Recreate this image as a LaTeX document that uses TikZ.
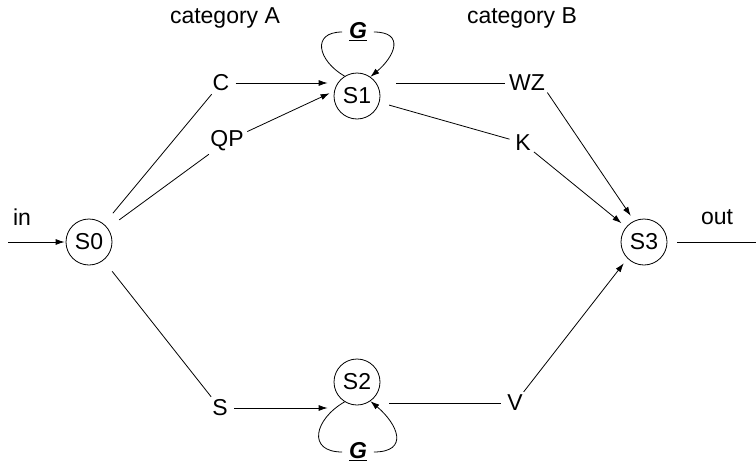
\documentclass[tikz,border=0pt]{standalone}
\usepackage{fontspec}
\setmainfont{Liberation Sans}
\usetikzlibrary{arrows.meta}
\tikzset{
  st/.style={circle, draw, minimum size=46pt, inner sep=0pt, line width=0.8pt},
  lbl/.style={circle, inner sep=2pt},
  plain/.style={inner sep=0pt},
  conn/.style={line width=0.8pt},
  arr/.style={line width=0.8pt, -{Latex[length=9pt,width=6pt]}},
}
\begin{document}
\begin{tikzpicture}[x=1pt, y=-1pt, font=\fontsize{23}{27}\selectfont]
\useasboundingbox (0,0) rectangle (756,469);
% states
\node[st] (S0) at (89,242) {S0};
\node[st] (S1) at (357,96) {S1};
\node[st] (S2) at (357,382) {S2};
\node[st] (S3) at (644,242) {S3};
% labels
\node[plain] (catA) at (225,18) {category A};
\node[plain] (catB) at (522,18) {category B};
\node[lbl] (C) at (221,83) {C};
\node[lbl] (QP) at (227,141) {QP};
\node[lbl] (S) at (220,408) {S};
\node[lbl] (WZ) at (527,83) {WZ};
\node[lbl] (K) at (523,143) {K};
\node[lbl] (V) at (515,403) {V};
\node[plain] (in) at (22,217) {in};
\node[plain] (out) at (717,217) {out};
\node[lbl] (G1) at (358,32) {\underline{\textbf{\textit{G}}}};
\node[lbl] (G2) at (358,452) {\underline{\textbf{\textit{G}}}};
\coordinate (inStart) at (8,242);
\coordinate (outEnd) at (756,242);
% connectors
\draw[arr, shorten >=1pt] (inStart) -- (S0);
\draw[conn, shorten <=10pt] (S3) -- (outEnd);
\draw[conn, shorten <=14pt] (S0) -- (C);
\draw[conn, shorten <=14pt] (S0) -- (QP);
\draw[conn, shorten <=14pt] (S0) -- (S);
\draw[arr, shorten >=6pt] (C) -- (C -| S1.west);
\draw[arr, shorten >=5pt] (QP) -- (S1.168);
\draw[arr, shorten >=6pt] (S) -- (S -| S2.west);
\draw[conn, shorten <=16pt] (WZ -| S1.east) -- (WZ);
\draw[conn, shorten <=10pt] (S1) -- (K);
\draw[conn, shorten <=9pt] (V -| S2.east) -- (V);
\draw[arr, shorten >=6pt] (WZ.-25) -- (S3.115);
\draw[arr, shorten >=6pt] (K) -- (S3.140);
\draw[arr, shorten >=6pt] (V) -- (S3.225);
% self loops
\draw[conn] (S1.122) to[out=150, in=180, looseness=1.8] (G1);
\draw[arr] (G1) to[out=0, in=40, looseness=1.8] (S1.55);
\draw[conn] (S2.238) to[out=210, in=180, looseness=1.8] (G2);
\draw[arr] (G2) to[out=0, in=-40, looseness=1.8] (S2.-55);
\end{tikzpicture}
\end{document}
